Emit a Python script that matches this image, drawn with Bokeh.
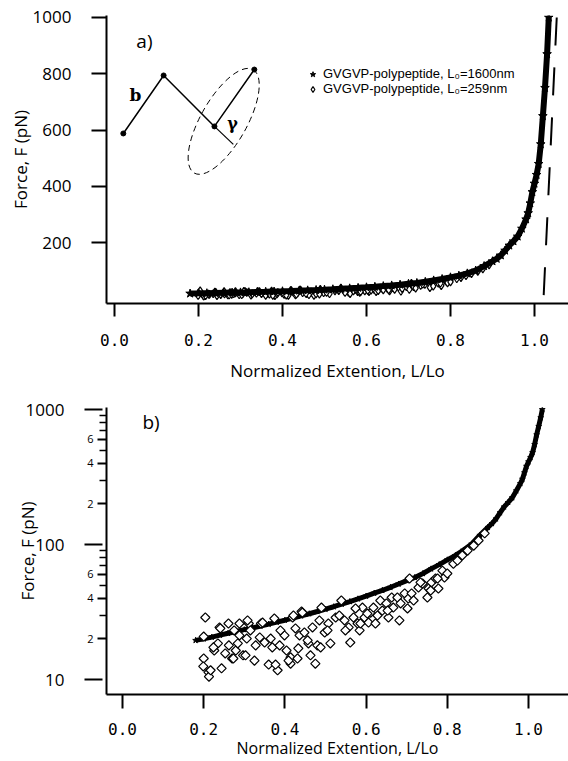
import numpy as np
from bokeh.plotting import figure
from bokeh.models import (Range1d, FixedTicker, BasicTickFormatter, PrintfTickFormatter,
                          LogAxis, Legend, LegendItem)
from bokeh.layouts import column
from bokeh.embed import file_html
from bokeh.resources import INLINE
from bokeh.core.properties import value

# ---------------- data ----------------
# L0 = 1600 nm series (stars), normalized extension vs force (pN)
star_x = [0.18, 0.20, 0.22, 0.24, 0.26, 0.28, 0.30, 0.32, 0.34, 0.36, 0.38, 0.40,
          0.42, 0.44, 0.46, 0.48, 0.50, 0.52, 0.54, 0.56, 0.58, 0.60, 0.62, 0.64,
          0.66, 0.68, 0.70, 0.72, 0.74, 0.76, 0.78, 0.80, 0.82, 0.84, 0.86, 0.88,
          0.90, 0.91, 0.92, 0.93, 0.94, 0.95, 0.96, 0.97, 0.98, 0.985, 0.99, 0.995,
          1.00, 1.005, 1.01, 1.015, 1.02, 1.025, 1.03, 1.034]
star_f = [19.5, 20.0, 20.6, 21.3, 22.0, 22.7, 23.4, 24.1, 24.9, 25.7, 26.6, 27.5,
          28.5, 29.6, 30.7, 31.9, 33.2, 34.6, 36.2, 37.8, 39.6, 41.5, 43.6, 45.8,
          48.2, 51.0, 54.0, 57.0, 61.0, 66.0, 71.0, 77.0, 83.0, 91.0, 101.0, 117.0,
          134.0, 143.0, 155.0, 172.0, 190.0, 205.0, 222.0, 250.0, 283.0, 305.0, 340.0, 380.0,
          410.0, 441.0, 480.0, 550.0, 650.0, 750.0, 870.0, 1000.0]

# L0 = 259 nm series (diamonds)
dia_x = [0.204, 0.200, 0.200, 0.199, 0.212, 0.213, 0.244, 0.226, 0.235, 0.239, 0.253, 0.262,
         0.275, 0.288, 0.288, 0.279, 0.270, 0.284, 0.297, 0.306, 0.311, 0.325, 0.315, 0.328,
         0.341, 0.338, 0.350, 0.365, 0.360, 0.374, 0.369, 0.382, 0.377, 0.387, 0.399, 0.404,
         0.414, 0.414, 0.419, 0.426, 0.431, 0.441, 0.436, 0.448, 0.458, 0.468, 0.463, 0.475,
         0.480, 0.490, 0.485, 0.498, 0.507, 0.512, 0.525, 0.534, 0.539, 0.547, 0.557, 0.561,
         0.569, 0.579, 0.584, 0.591, 0.596, 0.606, 0.611, 0.618, 0.623, 0.628, 0.635, 0.640,
         0.650, 0.655, 0.663, 0.667, 0.677, 0.682, 0.685, 0.695, 0.704, 0.707, 0.712, 0.729,
         0.739, 0.754, 0.761, 0.771, 0.778, 0.788, 0.793, 0.800, 0.815, 0.825, 0.837, 0.850,
         0.865, 0.877, 0.892,
         0.574, 0.549, 0.586, 0.603, 0.653, 0.702, 0.717, 0.751, 0.759, 0.734, 0.776,
         0.217, 0.224, 0.241, 0.261, 0.308, 0.273, 0.303, 0.409, 0.433, 0.345, 0.389,
         0.421, 0.443, 0.456, 0.505, 0.488]
dia_f = [28.8, 20.8, 14.3, 12.5, 11.3, 10.5, 12.1, 16.4, 18.5, 24.3, 15.6, 17.9,
         23.1, 26.0, 21.2, 16.4, 14.3, 18.5, 15.1, 20.1, 26.0, 13.8, 23.1, 17.9,
         26.0, 20.5, 18.8, 20.1, 12.9, 28.3, 17.3, 11.7, 12.9, 17.9, 21.2, 16.4,
         14.6, 13.1, 28.8, 23.9, 14.3, 31.9, 21.2, 22.3, 18.5, 24.3, 15.1, 13.1,
         17.9, 34.1, 27.4, 22.3, 26.0, 18.5, 28.8, 29.8, 38.5, 27.4, 24.3, 18.8,
         28.8, 26.0, 23.1, 34.1, 28.8, 26.4, 31.3, 34.1, 26.0, 29.8, 38.5, 32.4,
         36.6, 28.8, 40.5, 34.1, 40.5, 27.4, 36.6, 43.4, 39.8, 56.0, 43.4, 48.0,
         51.4, 47.2, 52.4, 56.0, 47.2, 64.0, 57.0, 61.0, 72.0, 76.0, 83.0, 90.0,
         98.0, 107.0, 121.0,
         33.6, 23.1, 26.0, 30.8, 32.4, 33.6, 38.5, 40.5, 45.6, 52.4, 56.0,
         11.7, 17.3, 23.9, 26.0, 27.4, 14.3, 15.1, 13.8, 17.0, 26.4, 23.1,
         29.8, 31.3, 19.5, 23.1, 17.3]

# dashed limiting line (panel a)
dash_x = [1.053, 1.021]
dash_f = [1000.0, -16.0]

# inset sketch of the chain (panel a), in data units of panel a
chain_x = [0.021, 0.117, 0.238, 0.333]
chain_f = [588.0, 794.0, 613.0, 815.0]
perp_x = [0.238, 0.283]
perp_f = [613.0, 549.0]
ell_x = [0.260]
ell_f = [631.0]

x_ticks = [0.0, 0.2, 0.4, 0.6, 0.8, 1.0]
lin_y_ticks = [200, 400, 600, 800, 1000]
log_decades = [10, 100, 1000]
log_labeled = [20, 40, 60, 200, 400, 600]
log_minor = [30, 50, 70, 80, 90, 300, 500, 700, 800, 900]
legend_labels = ["GVGVP-polypeptide, L\u2080=1600nm", "GVGVP-polypeptide, L\u2080=259nm"]
x_title = "Normalized Extention, L/Lo"
y_title = "Force, F (pN)"

W = 568
TOP_H = 385
BOT_H = 761 - TOP_H

TICK_FONT = "Open Sans"
XTICK_FONT = "DejaVu Sans Mono"


def style_common(p):
    p.outline_line_color = None
    p.xgrid.visible = False
    p.ygrid.visible = False
    p.background_fill_color = "white"
    p.border_fill_color = "white"
    p.min_border_left = 106
    p.min_border_right = 0


def style_axis(ax):
    ax.axis_line_width = 2
    ax.axis_line_color = "black"
    ax.major_tick_line_width = 2
    ax.major_tick_line_color = "black"
    ax.minor_tick_line_width = 1.5
    ax.minor_tick_line_color = "black"
    ax.major_tick_in = 0
    ax.minor_tick_in = 0
    ax.major_label_text_color = "black"
    ax.axis_label_text_font = "Open Sans"
    ax.axis_label_text_font_style = "normal"
    ax.axis_label_text_color = "black"


# ---------------- panel a ----------------
p1 = figure(width=W, height=TOP_H, output_backend="svg", toolbar_location=None,
            x_range=Range1d(-0.019, 1.081), y_range=Range1d(-16, 1007))
style_common(p1)
p1.min_border_top = 15
p1.min_border_bottom = TOP_H - 303

xa = p1.xaxis[0]
style_axis(xa)
xa.ticker = FixedTicker(ticks=x_ticks, minor_ticks=[])
xa.formatter = PrintfTickFormatter(format="%.1f")
xa.major_tick_out = 13
xa.minor_tick_out = 0
xa.major_label_standoff = 17
xa.major_label_text_font = XTICK_FONT
xa.major_label_text_font_size = "16px"
xa.axis_label = x_title
xa.axis_label_text_font_size = "17px"
xa.axis_label_standoff = 10

ya = p1.yaxis[0]
style_axis(ya)
ya.ticker = FixedTicker(ticks=lin_y_ticks, minor_ticks=[])
ya.major_tick_out = 15
ya.minor_tick_out = 0
ya.major_label_standoff = 20
ya.major_label_text_font = TICK_FONT
ya.major_label_text_font_size = "17px"
ya.axis_label = y_title
ya.axis_label_text_font_size = "17px"
ya.axis_label_standoff = -2

p1.line(dash_x, dash_f, line_color="black", line_width=2, line_dash="28 22")
dia1 = p1.scatter(dia_x, dia_f, marker="diamond", size=8,
                  fill_color="white", line_color="black", line_width=1.2)
p1.line(star_x, star_f, line_color="black", line_width=6)
star1 = p1.scatter(star_x, star_f, marker="star", size=9, color="black")

# inset sketch
p1.line(chain_x, chain_f, line_color="black", line_width=1.5)
p1.scatter(chain_x, chain_f, marker="circle", size=5, color="black")
p1.line(perp_x, perp_f, line_color="black", line_width=1.2)
p1.ellipse(x=ell_x, y=ell_f, width=119, height=46, angle=np.deg2rad(60.4),
           width_units="screen", height_units="screen", fill_color=None,
           line_color="black", line_width=1, line_dash="6 4")
p1.text(x=[0.050], y=[723], text=["b"], text_font=value("DejaVu Serif"),
        text_font_style="bold", text_font_size="17px", text_align="center",
        text_baseline="middle", text_color="black")
p1.text(x=[0.281], y=[623], text=["\u03b3"], text_font=value("DejaVu Serif"),
        text_font_style="bold", text_font_size="16px", text_align="center",
        text_baseline="middle", text_color="black")
p1.text(x=[0.052], y=[918], text=["a)"], text_font=value("Open Sans"),
        text_font_size="19px", text_align="left", text_baseline="middle",
        text_color="black")

legend = Legend(items=[LegendItem(label=legend_labels[0], renderers=[star1]),
                       LegendItem(label=legend_labels[1], renderers=[dia1])],
                location=(199, 207))
legend.glyph_width = 15
legend.glyph_height = 14
legend.label_height = 14
legend.label_standoff = 3
legend.spacing = 0
legend.padding = 0
legend.margin = 0
legend.border_line_color = None
legend.background_fill_alpha = 0
legend.label_text_font = "Liberation Sans"
legend.label_text_font_size = "13px"
legend.label_text_color = "black"
p1.add_layout(legend, "center")

# ---------------- panel b ----------------
p2 = figure(width=W, height=BOT_H, output_backend="svg", toolbar_location=None,
            y_axis_type="log",
            x_range=Range1d(-0.0394, 1.0985), y_range=Range1d(7.743, 1035))
style_common(p2)
p2.min_border_top = 407 - TOP_H
p2.min_border_bottom = 761 - 694

xb = p2.xaxis[0]
style_axis(xb)
xb.ticker = FixedTicker(ticks=x_ticks, minor_ticks=[])
xb.formatter = PrintfTickFormatter(format="%.1f")
xb.major_tick_out = 14
xb.minor_tick_out = 0
xb.major_label_standoff = 14
xb.major_label_text_font = XTICK_FONT
xb.major_label_text_font_size = "16px"
xb.axis_label = x_title
xb.axis_label_text_font_size = "16px"
xb.axis_label_standoff = -1

# inner axis: labelled minor ticks 2,4,6 and unlabeled minor ticks
yb = p2.yaxis[0]
style_axis(yb)
yb.ticker = FixedTicker(ticks=log_labeled, minor_ticks=log_minor)
yb.formatter = BasicTickFormatter()
yb.major_label_overrides = {t: str(t)[0] for t in log_labeled}
yb.major_tick_out = 9
yb.minor_tick_out = 7
yb.major_label_standoff = 4
yb.major_label_text_font = TICK_FONT
yb.major_label_text_font_size = "11px"

# outer axis: decades with long ticks and large labels
yd = LogAxis(ticker=FixedTicker(ticks=log_decades, minor_ticks=[]),
             formatter=BasicTickFormatter())
style_axis(yd)
yd.axis_line_color = None
yd.major_label_overrides = {t: str(t) for t in log_decades}
yd.major_tick_in = 18
yd.major_tick_out = 0
yd.minor_tick_out = 0
yd.major_label_standoff = 20
yd.major_label_text_font = TICK_FONT
yd.major_label_text_font_size = "17px"
yd.axis_label = y_title
yd.axis_label_text_font_size = "17px"
yd.axis_label_standoff = -16
p2.add_layout(yd, "left")

p2.line(star_x, star_f, line_color="black", line_width=5)
p2.scatter(star_x, star_f, marker="star", size=6, color="black")
p2.scatter(dia_x, dia_f, marker="square", angle=np.pi / 4, size=6.5,
           fill_color="white", line_color="black", line_width=1.2)
p2.text(x=[0.049], y=[802], text=["b)"], text_font=value("Open Sans"),
        text_font_size="19px", text_align="left", text_baseline="middle",
        text_color="black")

layout = column(p1, p2)
open("out.html", "w").write(file_html(layout, INLINE))
